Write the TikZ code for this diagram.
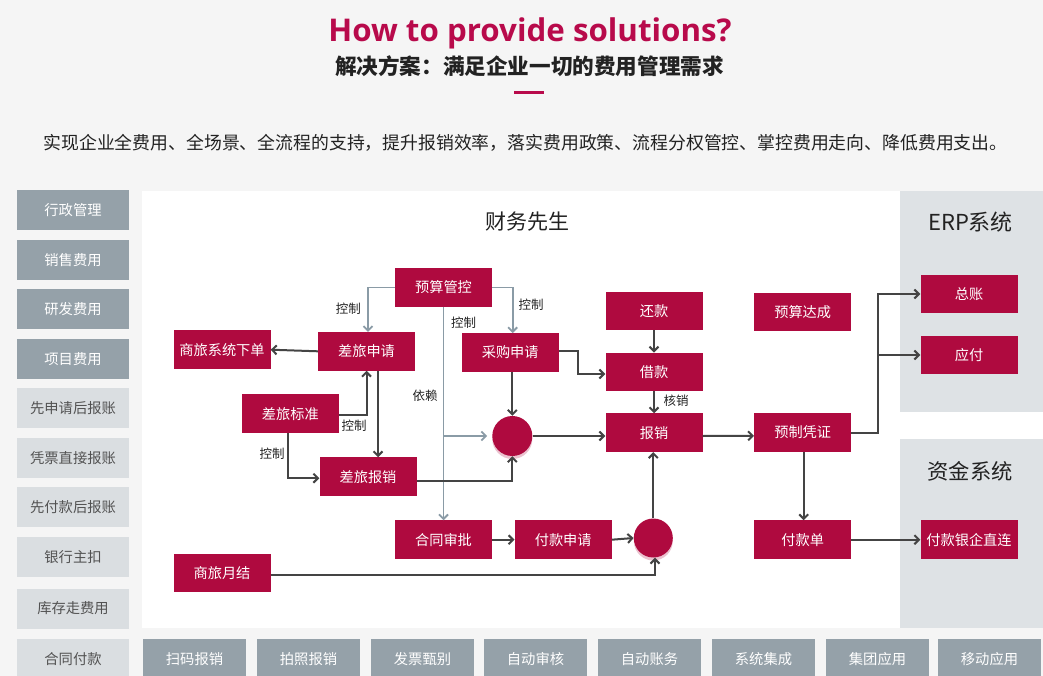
\documentclass[tikz,border=0pt]{standalone}
\usepackage{fontspec}
\setmainfont{Noto Sans CJK SC}
\newfontfamily\titlefont{Open Sans}
\usetikzlibrary{arrows.meta,shadows}
\definecolor{bg}{HTML}{F5F5F5}
\definecolor{boxred}{HTML}{AF0A3F}
\definecolor{titlered}{HTML}{B80A4B}
\definecolor{gdark}{HTML}{95A1A9}
\definecolor{glight}{HTML}{DADEE1}
\definecolor{panel}{HTML}{DEE2E5}
\definecolor{garr}{HTML}{8A9BA6}
\definecolor{darr}{HTML}{444444}
\definecolor{txt}{HTML}{222222}
\begin{document}
\begin{tikzpicture}[x=1pt,y=-1pt,
  rb/.style={fill=boxred,text=white,minimum width=97pt,minimum height=38.5pt,inner sep=0pt,font=\fontsize{14.2}{15}\selectfont},
  lbd/.style={fill=gdark,text=white,minimum width=112pt,minimum height=40pt,inner sep=0pt,font=\fontsize{14.3}{15}\selectfont},
  lbl/.style={fill=glight,text=black!68,minimum width=112pt,minimum height=40pt,inner sep=0pt,font=\fontsize{14.3}{15}\selectfont},
  bbx/.style={fill=gdark,text=white,minimum width=103pt,minimum height=40pt,inner sep=0pt,font=\fontsize{14.3}{15}\selectfont},
  dotnode/.style={circle,fill=boxred,minimum size=40pt,inner sep=0pt,
    drop shadow={shadow xshift=0pt,shadow yshift=-3pt,fill=boxred!35,opacity=0.7}},
  da/.style={draw=darr,line width=2pt,-{Straight Barb[length=4.5pt,width=9pt]}},
  ga/.style={draw=garr,line width=1.8pt,-{Straight Barb[length=4.5pt,width=9pt]}},
  lab/.style={font=\fontsize{12.5}{13}\selectfont,text=txt,inner sep=0pt}]
\useasboundingbox (0,0) rectangle (1043,676);
\fill[bg] (0,0) rectangle (1043,676);
% header
\node[font=\titlefont\bfseries\fontsize{31.3}{32}\selectfont,text=titlered,anchor=base,inner sep=0pt] (title) at (530,41.5) {How to provide solutions?};
\node[font=\bfseries\fontsize{21.6}{22}\selectfont,text=txt,inner sep=0pt] (sub) at (529.5,66) {解决方案：满足企业一切的费用管理需求};
\fill[titlered] (514,91) rectangle (544,93.7);
\node[font=\fontsize{17.85}{18}\selectfont,text=txt,inner sep=0pt] (desc) at (525.5,143) {实现企业全费用、全场景、全流程的支持，提升报销效率，落实费用政策、流程分权管控、掌控费用走向、降低费用支出。};
% panels
\fill[white] (142,191.5) rectangle (1043,628);
\fill[panel] (900,191.5) rectangle (1043,412);
\fill[panel] (900,439) rectangle (1043,628);
\node[font=\fontsize{21}{22}\selectfont,text=txt,inner sep=0pt] (cwxs) at (527.5,221.5) {财务先生};
\node[font=\fontsize{22}{23}\selectfont,text=txt,inner sep=0pt] (erp) at (970.5,222.3) {ERP系统};
\node[font=\fontsize{21.3}{22}\selectfont,text=txt,inner sep=0pt] (zjxt) at (970,471) {资金系统};
% left column
\node[lbd] (l1) at (73,210) {行政管理};
\node[lbd] (l2) at (73,260) {销售费用};
\node[lbd] (l3) at (73,309) {研发费用};
\node[lbd] (l4) at (73,359) {项目费用};
\node[lbl] (l5) at (73,408) {先申请后报账};
\node[lbl] (l6) at (73,458) {凭票直接报账};
\node[lbl] (l7) at (73,507) {先付款后报账};
\node[lbl] (l8) at (73,557) {银行主扣};
\node[lbl] (l9) at (73,608.5) {库存走费用};
\node[lbl] (l10) at (73,659) {合同付款};
% bottom row
\node[bbx] (b1) at (194.5,659) {扫码报销};
\node[bbx] (b2) at (308.5,659) {拍照报销};
\node[bbx] (b3) at (422.5,659) {发票甄别};
\node[bbx] (b4) at (535.5,659) {自动审核};
\node[bbx] (b5) at (649.5,659) {自动账务};
\node[bbx] (b6) at (763.5,659) {系统集成};
\node[bbx] (b7) at (877.5,659) {集团应用};
\node[bbx] (b8) at (989.5,659) {移动应用};
% red boxes
\node[rb] (ysgk) at (443.5,287.5) {预算管控};
\node[rb] (clsq) at (366.5,351.3) {差旅申请};
\node[rb] (slxd) at (222,349.7) {商旅系统下单};
\node[rb] (clbz) at (290.3,413.7) {差旅标准};
\node[rb] (clbx) at (368,476.7) {差旅报销};
\node[rb] (cgsq) at (510.2,352.5) {采购申请};
\node[rb] (hk) at (654,311) {还款};
\node[rb] (jk) at (654,372) {借款};
\node[rb] (bx) at (654,432.7) {报销};
\node[rb] (ysdc) at (802.7,311.8) {预算达成};
\node[rb] (yzpz) at (802.7,432.5) {预制凭证};
\node[rb] (fkd) at (802.7,539.7) {付款单};
\node[rb] (zz) at (969,294) {总账};
\node[rb] (yf) at (969,355) {应付};
\node[rb] (fkyq) at (969,539.7) {付款银企直连};
\node[rb] (htsp) at (443.5,539.7) {合同审批};
\node[rb] (fksq) at (563.2,539.7) {付款申请};
\node[rb] (slyj) at (222,573) {商旅月结};
\node[dotnode] (c1) at (512.3,436) {};
\node[dotnode,minimum size=39pt] (c2) at (653.3,538) {};
% gray connectors
\draw[ga] (ysgk.west) -| ([xshift=1.5pt]clsq.north);
\draw[ga] (ysgk.east) -| ([xshift=2.5pt]cgsq.north);
\draw[ga] (ysgk.south) -- (htsp.north);
\draw[ga] (ysgk.south |- c1) -- ([xshift=-5pt]c1.west);
% dark connectors
\draw[da] (clsq.west) -- (slxd.east);
\draw[da] ([xshift=11.5pt]clsq.south) -- ([xshift=11.5pt]clsq.south |- clbx.north);
\draw[da] ([yshift=-1.3pt]clbz.east) -| (clsq.south);
\draw[da] ([xshift=-2.5pt]clbz.south) |- ([yshift=-1.5pt]clbx.west);
\draw[da] ([yshift=-4pt]clbx.east) -| (c1.south);
\draw[da] (cgsq.south -| c1) -- (c1.north);
\draw[da] ([yshift=2pt]cgsq.east) -- ++(19.5,0) |- ([yshift=-2pt]jk.west);
\draw[da] (c1.east) -- (c1.east -| bx.west);
\draw[da] (hk.south) -- (jk.north);
\draw[da] (jk.south) -- (bx.north);
\draw[da] (c2.north) -- (bx.south -| c2);
\draw[da] ([yshift=-3.3pt]bx.east) -- ([yshift=-3.3pt]yzpz.west);
\draw[da] (yzpz.east) -- ++(27,0) coordinate (jn) |- (zz.west);
\draw[da] (jn |- yf.west) -- (yf.west);
\draw[da] ([xshift=1pt]yzpz.south) -- ([xshift=1pt]fkd.north);
\draw[da] (fkd.east) -- (fkyq.west);
\draw[da] (htsp.east) -- (fksq.west);
\draw[da] (fksq.east) -- (c2.west);
\draw[da] ([yshift=-2pt]slyj.east) -| ([xshift=1.7pt]c2.south);
% labels
\node[lab] (k1) at (348.3,309) {控制};
\node[lab] (k2) at (531,305) {控制};
\node[lab] (k3) at (463.7,322.5) {控制};
\node[lab] (yl) at (425,396) {依赖};
\node[lab] (k4) at (354,426) {控制};
\node[lab] (k5) at (272,454) {控制};
\node[lab] (hx) at (676,401) {核销};
\end{tikzpicture}
\end{document}
